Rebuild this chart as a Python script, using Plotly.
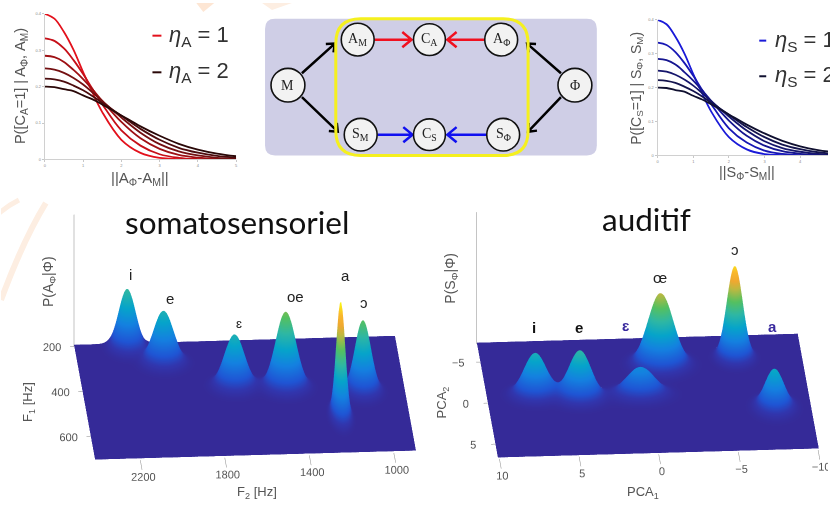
import numpy as np
import plotly.graph_objects as go

W, H = 830, 507

# ---- top line charts: values ---------------------------
dist_values = [0, .25, .5, .75, 1, 1.25, 1.5, 2, 2.5, 3, 3.5, 4, 4.5, 5]
curve_1 = [.400, .387, .350, .301, .240, .183, .130, .054, .018, .004, .001, 0, 0, 0]
curve_2 = [.333, .326, .305, .273, .235, .193, .152, .080, .038, .0143, .0045, .001, 0, 0]
curve_3 = [.285, .281, .268, .246, .221, .192, .161, .103, .058, .029, .0125, .005, .0015, .0005]
curve_4 = [.250, .247, .238, .224, .206, .184, .161, .115, .0735, .042, .022, .011, .0045, .002]
curve_5 = [.222, .220, .214, .203, .190, .174, .156, .120, .084, .054, .032, .0185, .0095, .0045]
curve_6 = [.200, .199, .193, .188, .176, .165, .151, .121, .091, .065, .043, .027, .016, .0088]
curves = [curve_1, curve_2, curve_3, curve_4, curve_5, curve_6]
reds = ["#e3111c", "#c60f18", "#9e1014", "#741012", "#4c0c0e", "#2a0808"]
blues = ["#1a1ad8", "#1717b4", "#161690", "#16166c", "#14144e", "#101030"]
dist_ticks = [0, 1, 2, 3, 4, 5]
prob_ticks = [0, .1, .2, .3, .4]
prob_ticktext = ["0", "0.1", "0.2", "0.3", "0.4"]

# ---- bottom surfaces: peak parameters ---------------------------
vowels_som = ["i", "e", "ɛ", "oe", "a", "ɔ"]
f2_centre = [2166, 2008, 1694, 1454, 1220, 1094]
f1_centre = [220, 291, 404, 416, 550, 443]
som_height = [.51, .45, .45, .66, 1.0, .62]
f2_spread = [40, 48, 48, 48, 21, 38]
f1_spread = [24, 24, 24, 24, 28, 24]
f2_range = [895, 2414]
f1_range = [200, 710]
f2_ticks = [2200, 1800, 1400, 1000]
f1_ticks = [200, 400, 600]

vowels_aud = ["i", "e", "ɛ", "œ", "ɔ", "a"]
pca1_centre = [7.05, 4.3, .47, -1.13, -5.84, -7.75]
pca2_centre = [-.6, -.1, -.3, -3.87, -4.48, 1.7]
aud_height = [.46, .52, .30, .78, 1.0, .42]
pca1_spread = [.72, .72, .9, .8, .5, .6]
pca2_spread = [.65, .65, .65, .75, .6, .75]
pca1_range = [-10.05, 10.1]
pca2_range = [-7.2, 6.8]
pca1_ticks = [10, 5, 0, -5, -10]
pca2_ticks = [-5, 0, 5]

PARULA = [[0, "#352a98"], [.06, "#3136ae"], [.125, "#1f55d4"], [.25, "#1481e0"], [.375, "#06a4ca"],
          [.5, "#2eb7a4"], [.625, "#55c060"], [.75, "#c0b840"], [.82, "#f0a830"], [.9, "#f9b82c"], [1, "#f9fb0e"]]


def bumps(xr, yr, xc, yc, sx, sy, amp):
    x = np.linspace(xr[0], xr[1], 260)
    y = np.linspace(yr[0], yr[1], 140)
    X, Y = np.meshgrid(x, y)
    Z = np.zeros_like(X)
    for a, b, c, d, e in zip(xc, yc, sx, sy, amp):
        Z = Z + e * np.exp(-((X - a) / c) ** 2 / 2 - ((Y - b) / d) ** 2 / 2)
    return x, y, Z


def domx(a, b):
    return [a / W, b / W]


def domy(top, bottom):
    return [1 - bottom / H, 1 - top / H]


fig = go.Figure()

# line charts
for c, col in zip(curves, reds):
    fig.add_trace(go.Scatter(x=dist_values, y=c, mode="lines", xaxis="x", yaxis="y",
                             line=dict(color=col, width=1.8, shape="spline"), showlegend=False))
for c, col in zip(curves, blues):
    fig.add_trace(go.Scatter(x=dist_values, y=c, mode="lines", xaxis="x2", yaxis="y2",
                             line=dict(color=col, width=1.8, shape="spline"), showlegend=False))

# overlay axis in page units for the schematic and the labels
fig.add_trace(go.Scatter(x=[0], y=[0], xaxis="x3", yaxis="y3", mode="markers",
                         marker=dict(opacity=0), showlegend=False))

# surfaces
x, y, z = bumps(f2_range, f1_range, f2_centre, f1_centre, f2_spread, f1_spread, som_height)
fig.add_trace(go.Surface(x=x, y=y, z=z, scene="scene", colorscale=PARULA, cmin=0, cmax=1,
                         showscale=False, lighting=dict(ambient=1, diffuse=0, specular=0, fresnel=0)))
x, y, z = bumps(pca1_range, pca2_range, pca1_centre, pca2_centre, pca1_spread, pca2_spread, aud_height)
fig.add_trace(go.Surface(x=x, y=y, z=z, scene="scene2", colorscale=PARULA, cmin=0, cmax=1.05,
                         showscale=False, lighting=dict(ambient=1, diffuse=0, specular=0, fresnel=0)))

tick = dict(size=4, color="#8a8a8a", family="Liberation Sans")


def axis2d(dom, rng, vals, text=None, anchor=None):
    return dict(domain=dom, range=rng, tickvals=vals, ticktext=text, tickfont=tick, ticklen=2,
                ticks="outside", tickcolor="#c8c8c8", linecolor="#d0d0d0", linewidth=1,
                showgrid=False, zeroline=False, showline=True, anchor=anchor)


theta, phi = np.radians(4.1), np.radians(23)
RHO = 1.6
K = 1.91


def scene(dom_x, dom_y, xr, yr, zr, xt, yt, cx):
    ax = dict(showbackground=False, showgrid=False, zeroline=False, showspikes=False,
              tickfont=dict(size=11.5, color="#555", family="Liberation Sans"), tickangle=0,
              showline=False, ticks="outside", tickcolor="#888", title=dict(text=""))
    return dict(domain=dict(x=dom_x, y=dom_y),
                xaxis=dict(ax, range=xr, tickvals=xt, ticklen=4),
                yaxis=dict(ax, range=yr, tickvals=yt, ticklen=25),
                zaxis=dict(ax, range=zr, tickvals=[], showline=True, linecolor="#888"),
                aspectmode="manual", aspectratio=dict(x=K, y=.916 * K, z=.445 * K),
                camera=dict(projection=dict(type="orthographic"), up=dict(x=0, y=0, z=1),
                            center=dict(x=cx, y=0, z=0),
                            eye=dict(x=cx + RHO * np.cos(phi) * np.sin(theta),
                                     y=RHO * np.cos(phi) * np.cos(theta),
                                     z=RHO * np.sin(phi))))


shapes, annots = [], []


def S(**k):
    k.update(xref="x3", yref="y3")
    shapes.append(k)


def T(x, y, text, size=12, color="#333", family="Liberation Sans", angle=0, xa="center"):
    annots.append(dict(x=x, y=y, xref="x3", yref="y3", text=text, showarrow=False, textangle=angle,
                       font=dict(size=size, color=color, family=family), xanchor=xa, yanchor="middle"))


def rrect(x0, y0, x1, y1, r):
    return (f"M{x0+r},{y0} L{x1-r},{y0} Q{x1},{y0} {x1},{y0+r} L{x1},{y1-r} Q{x1},{y1} {x1-r},{y1} "
            f"L{x0+r},{y1} Q{x0},{y1} {x0},{y1-r} L{x0},{y0+r} Q{x0},{y0} {x0+r},{y0} Z")


def arrow(x0, y0, x1, y1, col, w=2.5, hl=10):
    ang = np.arctan2(y1 - y0, x1 - x0)
    p = [(x1 + hl * np.cos(ang + s), y1 + hl * np.sin(ang + s)) for s in (np.pi * .78, -np.pi * .78)]
    S(type="path", path=f"M{x0},{y0} L{x1},{y1} M{p[0][0]},{p[0][1]} L{x1},{y1} L{p[1][0]},{p[1][1]}",
      line=dict(color=col, width=w), layer="above")


# faint watermark arcs
S(type="path", path="M0,300 Q22,240 45,202", line=dict(color="#fdeee2", width=6), layer="below")
S(type="path", path="M-5,215 Q6,205 18,199", line=dict(color="#fdeee2", width=5), layer="below")
S(type="path", path="M196,0 L214,0 L203,9 Z", fillcolor="#fde6d4", line=dict(width=0), layer="below")
S(type="path", path="M262,0 L292,0 L272,7 Z", fillcolor="#fdeee2", line=dict(width=0), layer="below")

# schematic
S(type="path", path=rrect(265, 16, 598, 154, 10), fillcolor="#cfcee6", line=dict(width=0), layer="below")
arrow(302, 71, 335, 41, "#000", 2.5, 9)
arrow(302, 95, 338, 130, "#000", 2.5, 9)
arrow(562, 71, 528, 41, "#000", 2.5, 9)
arrow(562, 95, 529, 130, "#000", 2.5, 9)
arrow(375, 37, 412, 37, "#f01020", 2.5, 12)
arrow(485, 37, 448, 37, "#f01020", 2.5, 12)
arrow(378, 133, 413, 133, "#1010f0", 2.5, 12)
arrow(487, 133, 448, 133, "#1010f0", 2.5, 12)
S(type="path", path=rrect(336, 16, 529, 154, 25), line=dict(color="#f5f01e", width=3), layer="above")

node_text = ["M", "A<sub>M</sub>", "C<sub>A</sub>", "A<sub>Φ</sub>", "Φ", "S<sub>M</sub>", "C<sub>S</sub>", "S<sub>Φ</sub>"]
node_x = [288, 358, 430, 502, 576, 361, 430, 504]
node_y = [83, 37, 37, 37, 83, 133, 133, 133]
node_r = [17, 16.5, 16, 16.5, 17, 16.5, 16, 16.5]
for t, nx, ny, r in zip(node_text, node_x, node_y, node_r):
    S(type="circle", x0=nx - r, x1=nx + r, y0=ny - r, y1=ny + r, fillcolor="#f2f2f2",
      line=dict(color="#111", width=1.6), layer="above")
    T(nx, ny, t, size=14, color="#222", family="Liberation Serif")

# line chart titles and legends
T(20, 84, "P([C<sub>A</sub>=1] | A<sub>Φ</sub>, A<sub>M</sub>)", 14.5, "#555", angle=-90)
T(140, 177, "||A<sub>Φ</sub>-A<sub>M</sub>||", 15, "#555")
T(638, 86, "P([C<sub>S</sub>=1] | S<sub>Φ</sub>, S<sub>M</sub>)", 14, "#555", angle=-90)
T(749, 172, "||S<sub>Φ</sub>-S<sub>M</sub>||", 14.5, "#555")
for (dx0, dx1, tx, yy, col, txt) in [
    (152, 161, 167, 33, "#e3111c", "<i>η</i><sub>A</sub> = 1"),
    (152, 161, 167, 70, "#2a0808", "<i>η</i><sub>A</sub> = 2"),
    (761, 768, 775, 38, "#1a1ad8", "<i>η</i><sub>S</sub> = 1"),
    (761, 768, 775, 74, "#101030", "<i>η</i><sub>S</sub> = 2"),
]:
    S(type="line", x0=dx0, x1=dx1, y0=yy, y1=yy, line=dict(color=col, width=2), layer="above")
    T(tx, yy, txt, 22, "#333", xa="left")

# bottom titles and vowels
T(237, 221, "somatosensoriel", 31.5, "#111", "Lato")
T(648, 218, "auditif", 31.5, "#111", "Lato")
T(48, 281, "P(A<sub>Φ</sub>|Φ)", 14, "#555", angle=-90)
T(452, 278, "P(S<sub>Φ</sub>|Φ)", 14, "#555", angle=-90)
T(27, 403, "F<sub>1</sub> [Hz]", 13, "#555", angle=-90)
T(257, 494, "F<sub>2</sub> [Hz]", 13, "#555")
T(443, 403, "PCA<sub>2</sub>", 13, "#555", angle=-90)
T(644, 494, "PCA<sub>1</sub>", 13, "#555")

for t, vx, vy, s, c in zip(vowels_som, [130, 170, 239, 296, 346, 364], [274, 298, 324, 296, 275, 302],
                           [15, 15, 13, 15, 15, 15], ["#222"] * 6):
    T(vx, vy, t, s, c)
for t, vx, vy, s, c in zip(vowels_aud, [535, 580, 627, 661, 737, 774], [328, 328, 326, 277, 249, 327],
                           [15] * 6, ["#111", "#111", "#3a2a9e", "#222", "#222", "#3a2a9e"]):
    T(vx, vy, f"<b>{t}</b>" if t in ("i", "e", "ɛ", "a") else t, s, c)

fig.update_layout(
    width=W, height=H, autosize=False, margin=dict(l=0, r=0, t=0, b=0),
    paper_bgcolor="white", plot_bgcolor="rgba(0,0,0,0)", showlegend=False,
    xaxis=axis2d(domx(44, 236), [0, 5], dist_ticks, anchor="y"),
    yaxis=axis2d(domy(11, 158), [0, .4], prob_ticks, prob_ticktext, anchor="x"),
    xaxis2=axis2d(domx(659, 830), [0, 4.78], dist_ticks, anchor="y2"),
    yaxis2=axis2d(domy(17, 154), [0, .4], prob_ticks, prob_ticktext, anchor="x2"),
    xaxis3=dict(domain=[0, 1], range=[0, W], visible=False, anchor="y3"),
    yaxis3=dict(domain=[0, 1], range=[H, 0], visible=False, anchor="x3"),
    scene=scene(domx(23, 467), domy(163.5, 503.5), f2_range, f1_range, [-.015, 1.13], f2_ticks, f1_ticks, 0),
    scene2=scene(domx(436, 830), domy(162, 502), pca1_range, pca2_range, [-.015, 1.42], pca1_ticks, pca2_ticks, .097),
    shapes=shapes, annotations=annots,
)

fig.write_html("out.html", config=dict(displayModeBar=False),
               post_script="document.body.style.margin='0';document.body.style.overflow='hidden';")
